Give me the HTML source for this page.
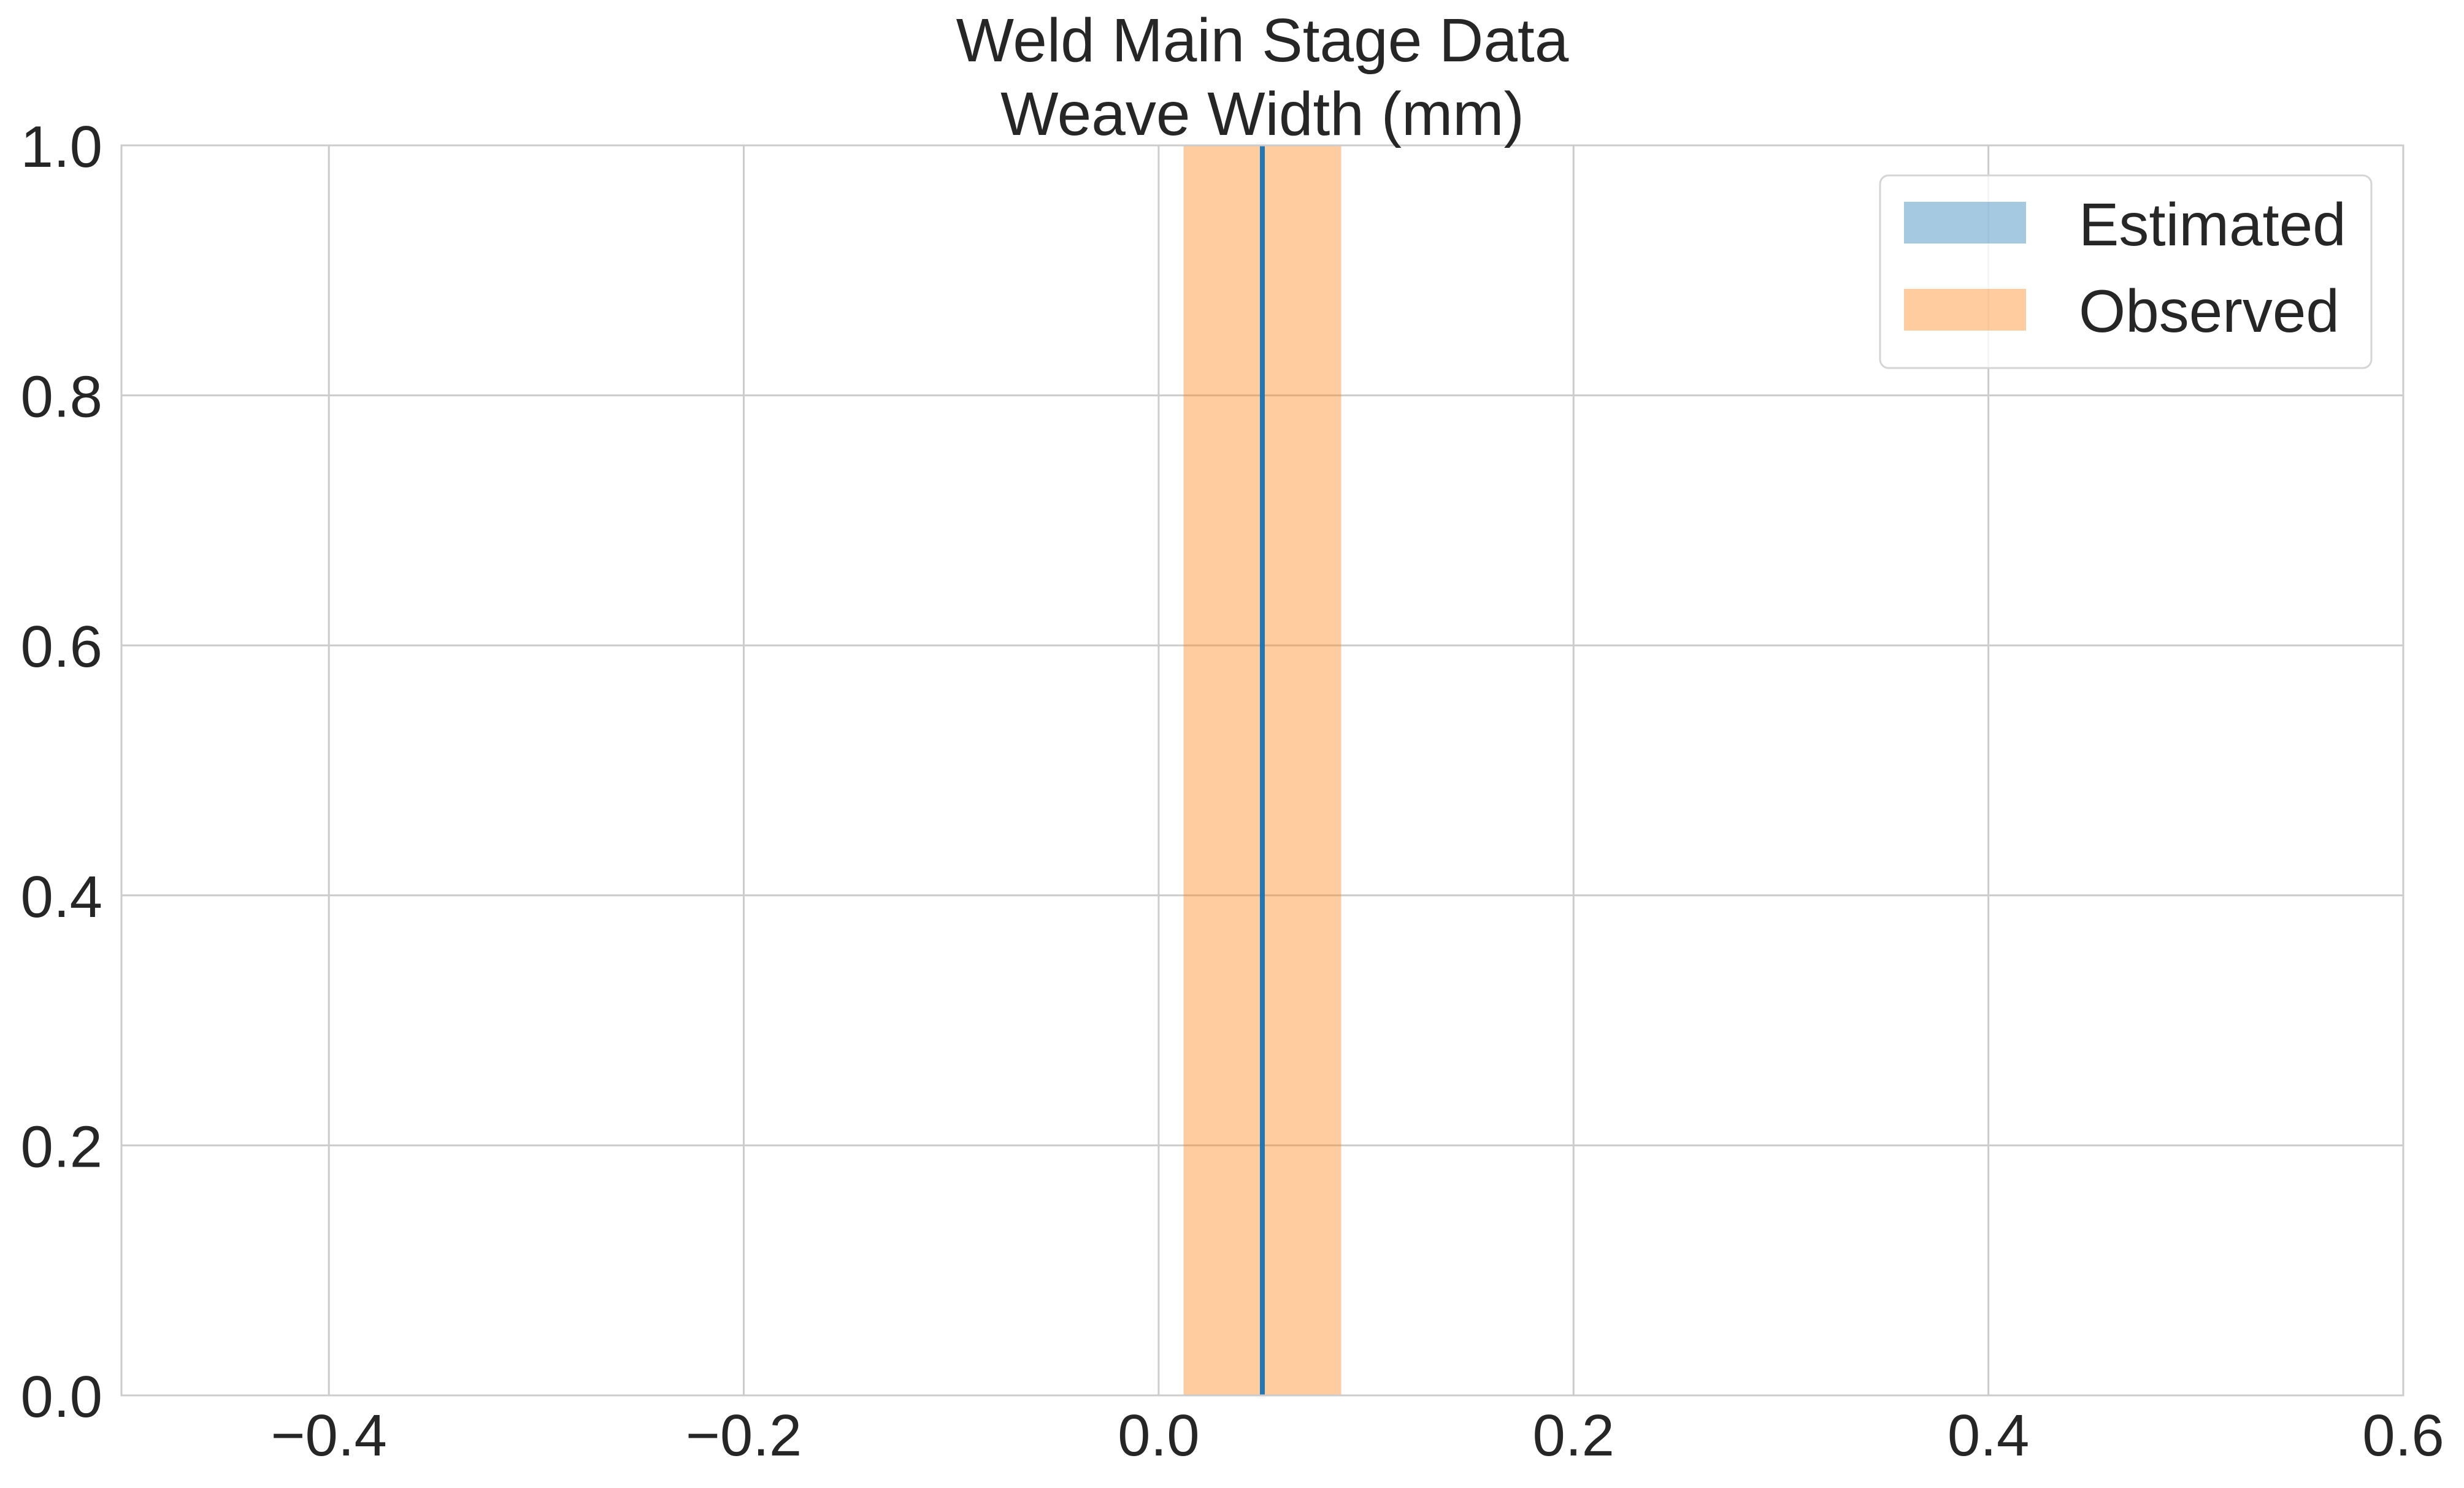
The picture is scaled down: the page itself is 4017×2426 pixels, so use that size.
<!DOCTYPE html>
<html><head><meta charset="utf-8"><style>
html,body{margin:0;padding:0;background:#fff;}
svg{display:block;font-family:"Liberation Sans",Arial,sans-serif;}
</style></head><body>
<svg id="chart" width="4017" height="2426" viewBox="0 0 4017 2426">
<g id="grid"></g>
<g id="marks"></g>
<rect x="198" y="237" width="3720" height="2038" fill="none" stroke="#cccccc" stroke-width="3"/>
<g id="ticks"></g>
<text x="2058" y="100" text-anchor="middle" font-size="100" fill="#262626">Weld Main Stage Data</text>
<text x="2058" y="220" text-anchor="middle" font-size="100" fill="#262626">Weave Width (mm)</text>
<g>
<rect x="3065" y="286" width="801" height="314" rx="14" fill="#ffffff" fill-opacity="0.8" stroke="#d5d5d5" stroke-width="3"/>
<rect x="3104" y="329" width="199" height="68" fill="#1f77b4" fill-opacity="0.4"/>
<text x="3389" y="400" font-size="98" fill="#262626">Estimated</text>
<rect x="3104" y="471" width="199" height="68" fill="#ff7f0e" fill-opacity="0.4"/>
<text x="3389" y="541" font-size="98" fill="#262626">Observed</text>
</g>
</svg>
<script>
const xTicks = [-0.4, -0.2, 0.0, 0.2, 0.4, 0.6];
const xTickLabels = ["\u22120.4", "\u22120.2", "0.0", "0.2", "0.4", "0.6"];
const yTicks = [0.0, 0.2, 0.4, 0.6, 0.8, 1.0];
const yTickLabels = ["0.0", "0.2", "0.4", "0.6", "0.8", "1.0"];
const observedBinEdges = [0.012, 0.088];
const observedHeights = [1.0];
const estimatedValues = [0.050];
const estimatedHeights = [1.0];

const X0 = 198, X1 = 3918, Y0 = 2275, Y1 = 237;
const xMin = -0.5, xMax = 0.6, yMin = 0, yMax = 1;
const sx = v => X0 + (v - xMin) / (xMax - xMin) * (X1 - X0);
const sy = v => Y0 - (v - yMin) / (yMax - yMin) * (Y0 - Y1);
const NS = "http://www.w3.org/2000/svg";
const grid = document.getElementById('grid');
const ticks = document.getElementById('ticks');
const marks = document.getElementById('marks');

xTicks.forEach((t, i) => {
  const l = document.createElementNS(NS, 'line');
  l.setAttribute('x1', sx(t)); l.setAttribute('x2', sx(t));
  l.setAttribute('y1', Y1); l.setAttribute('y2', Y0);
  l.setAttribute('stroke', '#cccccc'); l.setAttribute('stroke-width', '3');
  
  
  grid.appendChild(l);
  const tx = document.createElementNS(NS, 'text');
  tx.setAttribute('x', sx(t)); tx.setAttribute('y', 2373);
  tx.setAttribute('text-anchor', 'middle'); tx.setAttribute('font-size', '96'); tx.setAttribute('fill', '#262626');
  tx.textContent = xTickLabels[i];
  
  
  ticks.appendChild(tx);
});
yTicks.forEach((t, i) => {
  const l = document.createElementNS(NS, 'line');
  l.setAttribute('x1', X0); l.setAttribute('x2', X1);
  l.setAttribute('y1', sy(t)); l.setAttribute('y2', sy(t));
  l.setAttribute('stroke', '#cccccc'); l.setAttribute('stroke-width', '3');
  
  
  grid.appendChild(l);
  const tx = document.createElementNS(NS, 'text');
  tx.setAttribute('x', 167); tx.setAttribute('y', sy(t) + 35);
  tx.setAttribute('text-anchor', 'end'); tx.setAttribute('font-size', '96'); tx.setAttribute('fill', '#262626');
  tx.textContent = yTickLabels[i];
  
  
  ticks.appendChild(tx);
});
observedHeights.forEach((h, i) => {
  const r = document.createElementNS(NS, 'rect');
  const a = sx(observedBinEdges[i]), b = sx(observedBinEdges[i + 1]);
  r.setAttribute('x', a); r.setAttribute('width', b - a);
  r.setAttribute('y', sy(h)); r.setAttribute('height', sy(0) - sy(h));
  r.setAttribute('fill', '#ff7f0e'); r.setAttribute('fill-opacity', '0.4');
  
  
  marks.appendChild(r);
});
estimatedValues.forEach((v, i) => {
  const l = document.createElementNS(NS, 'line');
  l.setAttribute('x1', sx(v)); l.setAttribute('x2', sx(v));
  l.setAttribute('y1', sy(estimatedHeights[i])); l.setAttribute('y2', sy(0));
  l.setAttribute('stroke', '#1f77b4'); l.setAttribute('stroke-width', '8');
  
  
  marks.appendChild(l);
});
</script>
</body></html>
